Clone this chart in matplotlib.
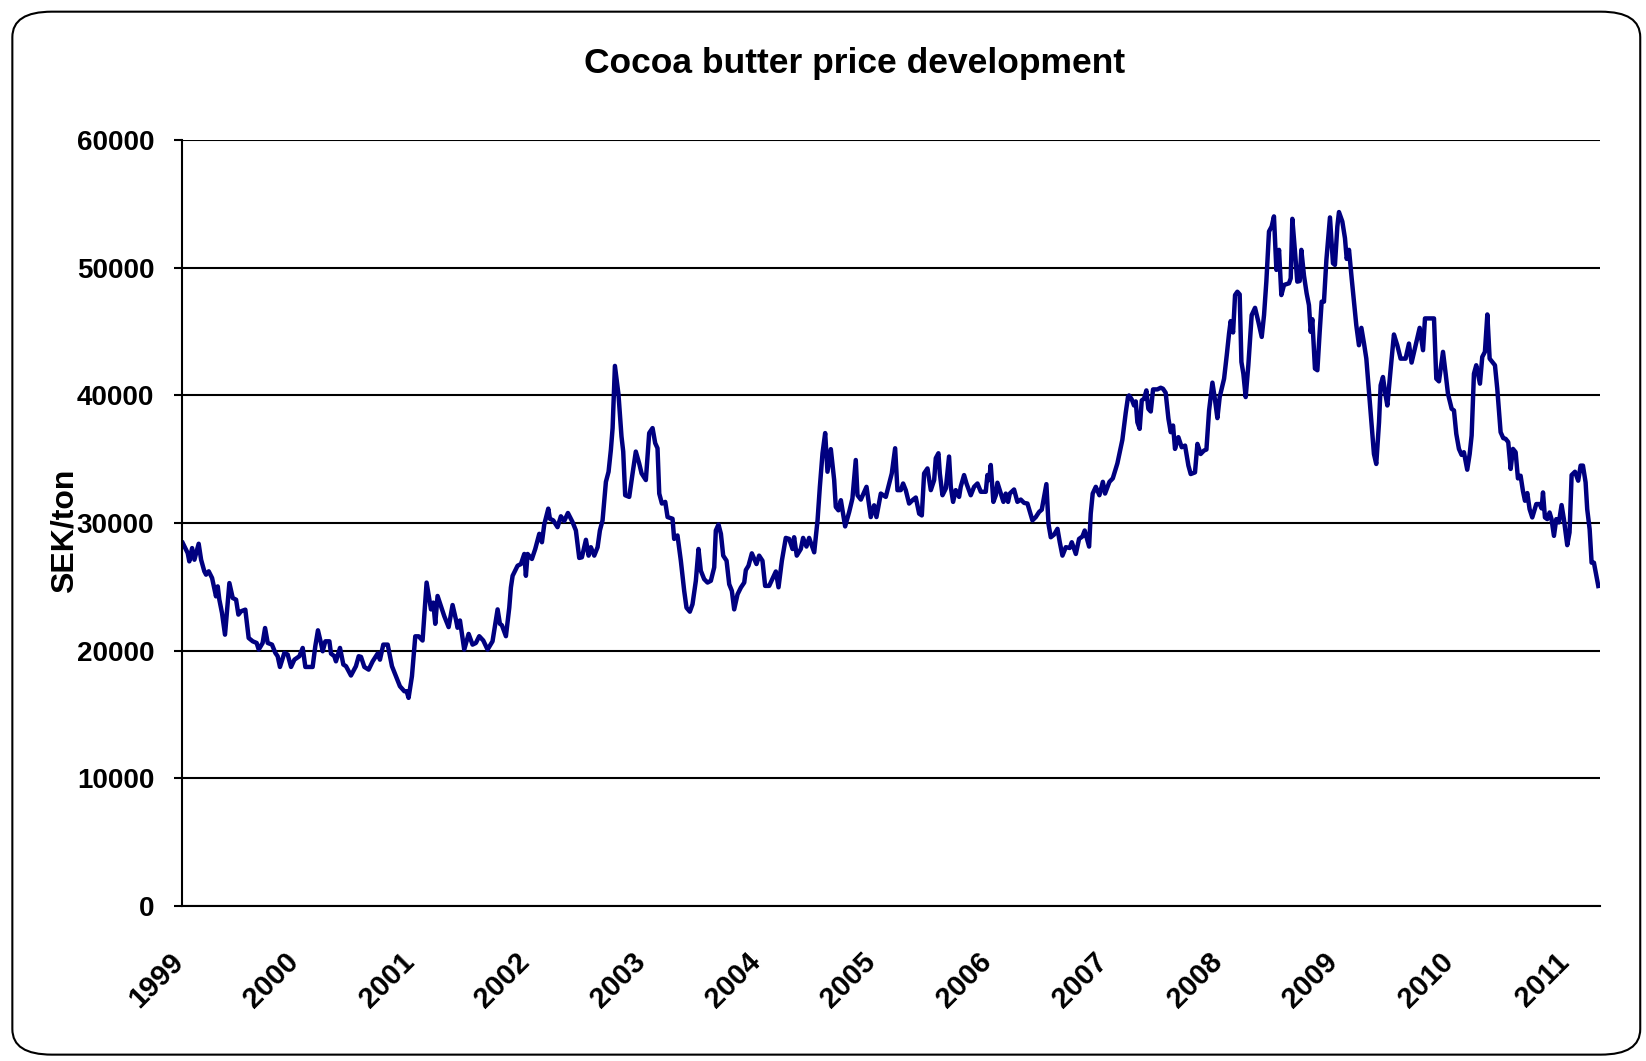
"""
Cocoa butter price development, SEK/ton, weekly 1999 - spring 2011.
"""

import matplotlib
matplotlib.use("Agg")
import matplotlib.pyplot as plt
import matplotlib.transforms as mtransforms
from matplotlib.patches import FancyBboxPatch


# ── Data (decimal year / SEK per ton) ────────────────────────────────────────

t_year = [
    1999.006, 1999.049, 1999.063, 1999.087, 1999.107, 1999.144, 1999.165, 1999.193,
    1999.208, 1999.231, 1999.260, 1999.294, 1999.309, 1999.323, 1999.346, 1999.372,
    1999.410, 1999.439, 1999.468, 1999.488, 1999.511, 1999.548, 1999.577, 1999.612,
    1999.646, 1999.664, 1999.698, 1999.719, 1999.742, 1999.779, 1999.808, 1999.828,
    1999.848, 1999.886, 1999.915, 1999.944, 1999.973, 2000.016, 2000.045, 2000.068,
    2000.131, 2000.154, 2000.177, 2000.203, 2000.218, 2000.241, 2000.276, 2000.290,
    2000.319, 2000.333, 2000.368, 2000.397, 2000.420, 2000.463, 2000.506, 2000.530,
    2000.550, 2000.579, 2000.616, 2000.651, 2000.694, 2000.714, 2000.743, 2000.781,
    2000.818, 2000.853, 2000.887, 2000.925, 2000.945, 2000.962, 2000.991, 2001.020,
    2001.049,
    2001.083, 2001.118, 2001.156, 2001.176, 2001.193, 2001.213, 2001.242, 2001.271,
    2001.309, 2001.343, 2001.372, 2001.386, 2001.407, 2001.444, 2001.482, 2001.516,
    2001.545, 2001.574, 2001.609, 2001.646, 2001.689, 2001.733, 2001.753, 2001.770,
    2001.805, 2001.834, 2001.848, 2001.863, 2001.906, 2001.935, 2001.964, 2001.978,
    2001.993, 2002.030, 2002.059, 2002.094, 2002.117, 2002.137, 2002.172, 2002.186,
    2002.215, 2002.252, 2002.281, 2002.310, 2002.342, 2002.382, 2002.411, 2002.440,
    2002.463, 2002.498, 2002.521, 2002.541, 2002.570, 2002.599, 2002.619, 2002.642,
    2002.671, 2002.694, 2002.714, 2002.729, 2002.749, 2002.780, 2002.806, 2002.821,
    2002.838, 2002.873, 2002.902, 2002.930, 2002.959, 2002.980, 2003.017, 2003.046,
    2003.075, 2003.098, 2003.118, 2003.133, 2003.156, 2003.185, 2003.205, 2003.248,
    2003.262, 2003.291, 2003.320, 2003.349, 2003.369, 2003.398, 2003.421, 2003.450,
    2003.473, 2003.493, 2003.522, 2003.551, 2003.580, 2003.609, 2003.623, 2003.646,
    2003.667, 2003.687, 2003.716, 2003.739, 2003.762, 2003.782, 2003.811, 2003.840,
    2003.869, 2003.883, 2003.906, 2003.935, 2003.975, 2003.998, 2004.027, 2004.050,
    2004.085, 2004.143, 2004.166, 2004.195, 2004.229, 2004.258, 2004.287, 2004.301,
    2004.324, 2004.359, 2004.379, 2004.408, 2004.431, 2004.475, 2004.504, 2004.524,
    2004.547, 2004.570, 2004.590, 2004.619, 2004.648, 2004.662, 2004.685, 2004.706,
    2004.743, 2004.778, 2004.806, 2004.835, 2004.850, 2004.879, 2004.928, 2004.965,
    2004.994, 2005.014, 2005.052, 2005.095,
    2005.147, 2005.176, 2005.196, 2005.225, 2005.245, 2005.268, 2005.297, 2005.332,
    2005.355, 2005.384, 2005.407, 2005.427, 2005.456, 2005.485, 2005.514, 2005.528,
    2005.551, 2005.563, 2005.586, 2005.615, 2005.643, 2005.658, 2005.678, 2005.701,
    2005.730, 2005.744, 2005.773, 2005.794, 2005.831, 2005.860, 2005.889, 2005.918,
    2005.961, 2005.975, 2005.990, 2006.004, 2006.027, 2006.048, 2006.062, 2006.114,
    2006.134, 2006.154, 2006.169, 2006.206, 2006.235, 2006.264, 2006.293, 2006.322,
    2006.365, 2006.394, 2006.423, 2006.446, 2006.466, 2006.486, 2006.504, 2006.524,
    2006.553, 2006.582, 2006.602, 2006.625, 2006.654, 2006.688, 2006.706, 2006.741,
    2006.769, 2006.798, 2006.818, 2006.856, 2006.870, 2006.887, 2006.914, 2006.945,
    2006.975, 2006.994, 2007.032, 2007.061, 2007.101, 2007.144, 2007.173, 2007.193,
    2007.202, 2007.225, 2007.245, 2007.260, 2007.274, 2007.294, 2007.312, 2007.332,
    2007.352, 2007.369, 2007.390, 2007.410, 2007.447, 2007.476, 2007.496, 2007.519,
    2007.543, 2007.563, 2007.583, 2007.600, 2007.629, 2007.658, 2007.687, 2007.716,
    2007.736, 2007.773, 2007.794, 2007.822, 2007.851, 2007.872, 2007.895, 2007.924,
    2007.947, 2007.967, 2007.987, 2008.025, 2008.048, 2008.068, 2008.082, 2008.103,
    2008.120, 2008.140, 2008.160, 2008.175, 2008.192, 2008.212, 2008.235, 2008.264,
    2008.293, 2008.322, 2008.351, 2008.371, 2008.391, 2008.414, 2008.437, 2008.457,
    2008.478, 2008.501, 2008.521, 2008.544, 2008.587, 2008.602, 2008.616, 2008.639,
    2008.659, 2008.680, 2008.694, 2008.717, 2008.740, 2008.760, 2008.775, 2008.789,
    2008.812, 2008.833, 2008.853, 2008.870, 2008.890, 2008.911, 2008.942, 2008.968,
    2008.985, 2009.006, 2009.020, 2009.049, 2009.072, 2009.087, 2009.107, 2009.130,
    2009.150, 2009.170, 2009.193, 2009.214, 2009.237, 2009.257,
    2009.294, 2009.323, 2009.343, 2009.367, 2009.381, 2009.401, 2009.419, 2009.439,
    2009.468, 2009.496, 2009.525, 2009.554, 2009.597, 2009.626, 2009.649, 2009.684,
    2009.719, 2009.748, 2009.765, 2009.799, 2009.843, 2009.863, 2009.886, 2009.921,
    2009.944, 2009.964, 2009.996, 2010.016, 2010.036, 2010.059, 2010.082, 2010.102,
    2010.131, 2010.152, 2010.169, 2010.189, 2010.209, 2010.241, 2010.261, 2010.284,
    2010.305, 2010.325, 2010.348, 2010.371, 2010.391, 2010.420, 2010.443, 2010.463,
    2010.486, 2010.507, 2010.527, 2010.550, 2010.570, 2010.593, 2010.613, 2010.631,
    2010.651, 2010.671, 2010.694, 2010.729, 2010.758, 2010.775, 2010.787, 2010.804,
    2010.824, 2010.844, 2010.861, 2010.882, 2010.902, 2010.925, 2010.948, 2010.968,
    2010.997, 2011.017, 2011.035, 2011.064, 2011.092, 2011.113, 2011.133, 2011.156,
    2011.170, 2011.191, 2011.208, 2011.228, 2011.266,
]

price_sek = [
    28440, 27650, 27000, 28040, 27130, 28380, 27130, 26220,
    25960, 26220, 25700, 24260, 25040, 24000, 22960, 21260,
    25300, 24130, 24000, 22830, 23090, 23220, 21000, 20740,
    20610, 20090, 20610, 21780, 20610, 20480, 19830, 19570,
    18730, 19830, 19700, 18730, 19300, 19570, 20220, 18730,
    18730, 20350, 21600, 20610, 19960, 20740, 20740, 19780,
    19570, 19170, 20220, 18920, 18790, 18060, 18790, 19570,
    19520, 18730, 18520, 19170, 19780, 19300, 20480, 20480,
    18790, 18000, 17220, 16830, 16830, 16310, 18000, 21130,
    21130,
    20800, 25340, 23240, 23770, 22110, 24290, 23500, 22710,
    21850, 23580, 22450, 21800, 22370, 20090, 21320, 20480,
    20610, 21140, 20800, 20090, 20740, 23240, 22110, 22000,
    21140, 23370, 24950, 25870, 26660, 26790, 27580, 25870,
    27580, 27190, 27970, 29160, 28500, 29890, 31130, 30340,
    30210, 29680, 30530, 30160, 30790, 30080, 29420, 27270,
    27320, 28690, 27450, 28110, 27450, 28110, 29420, 30210,
    33230, 34020, 35730, 37440, 42310, 40070, 36780, 35600,
    32180, 32050, 33890, 35600, 34680, 33890, 33370, 37050,
    37440, 36260, 35860, 32310, 31530, 31660, 30470, 30340,
    28760, 29030, 27050, 24690, 23370, 23060, 23640, 25480,
    27970, 26270, 25610, 25340, 25480, 26530, 29420, 29890,
    29160, 27450, 27050, 25210, 24690, 23240, 24420, 24950,
    25340, 26320, 26660, 27630, 26790, 27450, 27050, 25080,
    25080, 26210, 24970, 27050, 28840, 28760, 27970, 28890,
    27450, 27970, 28840, 28160, 28840, 27710, 30210, 32840,
    35470, 37050, 34020, 35790, 33370, 31260, 31000, 31790,
    29740, 30870, 31920, 34940, 32180, 31840, 32840, 30470,
    31390, 30470, 32310, 32050,
    33890, 35860, 32580, 32580, 33100, 32580, 31530, 31840,
    32000, 30740, 30600, 33890, 34280, 32580, 33370, 35080,
    35470, 33890, 32180, 32710, 35210, 32840, 31660, 32580,
    32050, 32840, 33760, 33100, 32180, 32840, 33100, 32450,
    32450, 33760, 33370, 34550, 31660, 32180, 33160, 31660,
    32310, 31660, 32310, 32630, 31660, 31840, 31580, 31530,
    30210, 30470, 30870, 31050, 32050, 33050, 29950, 28890,
    29100, 29550, 28500, 27450, 28110, 28050, 28500, 27580,
    28760, 28950, 29420, 28160, 30740, 32310, 32840, 32180,
    33230, 32310, 33230, 33500, 34680, 36520, 38630, 39890,
    40000, 39690, 39210, 39530, 37900, 37380, 39610, 39740,
    40390, 38950, 38740, 40470, 40470, 40600, 40520, 40210,
    38170, 37120, 37640, 35810, 36730, 35940, 36070, 34500,
    33840, 33970, 36200, 35410, 35680, 35760, 38820, 41000,
    39610, 38220, 39870, 41310, 43140, 44850, 45820, 44930,
    47860, 48120, 47910, 42620, 41700, 39870, 42360, 46290,
    46860, 45760, 44580, 46290, 48910, 52840, 53230, 54020,
    49830, 51400, 47860, 48650, 48780, 49170, 53830, 51270,
    48910, 48960, 51400, 49380, 47990, 47070, 44980, 45970,
    42100, 41970, 44980, 47340, 47340, 50610, 53940, 50350,
    50220, 53230, 54360, 53620, 52310, 50690, 51400, 49170,
    47340, 45500, 43930, 45290, 44060, 42880,
    38690, 35410, 34630, 37900, 40790, 41440, 40260, 39210,
    42100, 44770, 43930, 42880, 42880, 44060, 42570, 43930,
    45290, 43540, 46030, 46030, 46030, 41310, 41100, 43410,
    41700, 40130, 38950, 38820, 36990, 35810, 35340, 35550,
    34180, 35410, 36860, 41700, 42360, 40920, 43010, 43410,
    46340, 42880, 42620, 42360, 40520, 37120, 36650, 36600,
    36340, 34240, 35810, 35550, 33500, 33710, 32530, 31750,
    32350, 31090, 30440, 31490, 31490, 31150, 32400, 30440,
    30310, 30830, 30310, 29000, 30310, 30050, 31410, 30310,
    28270, 29270, 33760, 34020, 33320, 34500, 34500, 33190,
    31090, 29520, 26900, 26900, 25070,
]

year_ticks = list(range(1999, 2012))
y_ticks = [0, 10000, 20000, 30000, 40000, 50000, 60000]


# ── Figure ────────────────────────────────────────────────────────────────────

plt.rcParams["font.family"] = ["Liberation Sans", "DejaVu Sans"]

fig = plt.figure(figsize=(16.46, 10.61), dpi=100)
fig.patch.set_facecolor("white")

# rounded frame around the whole chart
frame = FancyBboxPatch((0.0075, 0.006), 0.989, 0.983,
                       boxstyle="round,pad=0,rounding_size=0.024",
                       transform=fig.transFigure, facecolor="none",
                       edgecolor="black", linewidth=1.5)
fig.patches.append(frame)

ax = fig.add_axes([0.1106, 0.146, 0.8614, 0.722])

ax.plot(t_year, price_sek, color="#000080", linewidth=3.2, solid_joinstyle="round")

ax.set_xlim(1999, 2011.28)
ax.set_ylim(0, 60000)

ax.grid(axis="y", color="black", linewidth=1.5)
ax.set_axisbelow(True)
ax.tick_params(axis="y", length=6, width=1.5, pad=14)
ax.tick_params(axis="x", length=0, pad=30)

ax.set_yticks(y_ticks)
ax.set_yticklabels([str(v) for v in y_ticks], fontsize=20, fontweight="bold")
ax.set_xticks(year_ticks)
ax.set_xticklabels([str(y) for y in year_ticks], fontsize=21, fontweight="bold",
                   rotation=45, ha="right", va="top", rotation_mode="anchor")

# Excel puts the end of the slanted year label right on the tick
# (done after tick_params, which would reset the label transforms)
shift = mtransforms.ScaledTranslation(-13 / 100, 0, fig.dpi_scale_trans)
for lbl in ax.get_xticklabels():
    lbl.set_transform(lbl.get_transform() + shift)

for side in ("top", "right"):
    ax.spines[side].set_visible(False)
for side in ("left", "bottom"):
    ax.spines[side].set_linewidth(1.5)

ax.set_ylabel("SEK/ton", fontsize=23, fontweight="bold")
ax.yaxis.set_label_coords(-0.0725, 0.49)

fig.text(0.519, 0.94, "Cocoa butter price development", ha="center", va="center",
         fontsize=25.5, fontweight="bold")

fig.savefig("out.png", dpi=100)
plt.close(fig)
